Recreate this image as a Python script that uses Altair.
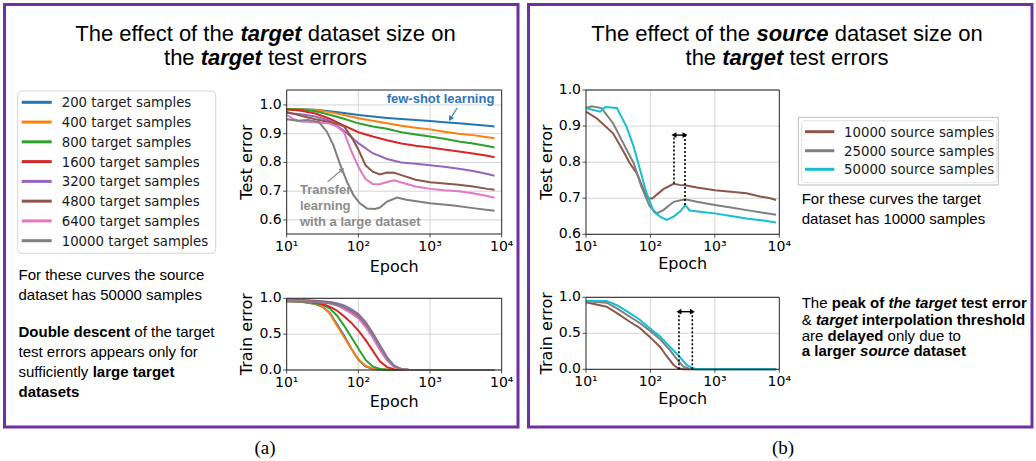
import altair as alt
import pandas as pd

W, H = 1036, 461

# ---------------- data (log10 of epoch, value) ----------------
A_NAMES = ["200 target samples", "400 target samples", "800 target samples", "1600 target samples",
           "3200 target samples", "4800 target samples", "6400 target samples", "10000 target samples"]
A_COLORS = ["#1f77b4", "#ff7f0e", "#2ca02c", "#d62728", "#9467bd", "#8c564b", "#e377c2", "#7f7f7f"]
B_NAMES = ["10000 source samples", "25000 source samples", "50000 source samples"]
B_COLORS = ["#8c564b", "#7f7f7f", "#17becf"]

X_TICKS = [10, 100, 1000, 10000]
X_TICK_LABELS = ["10\u00b9", "10\u00b2", "10\u00b3", "10\u2074"]
TEST_TICKS = [0.6, 0.7, 0.8, 0.9, 1.0]
TRAIN_TICKS = [0.0, 0.5, 1.0]

# (a) test error
A_TEST_EXP = [1.0, 1.2, 1.4, 1.6, 1.8, 2.0, 2.2, 2.4, 2.6, 2.8, 3.0, 3.2, 3.4, 3.6, 3.8, 3.9]
A_TEST_200 = [0.985, 0.985, 0.983, 0.978, 0.972, 0.965, 0.960, 0.955, 0.951, 0.948, 0.944, 0.940, 0.936, 0.932, 0.928, 0.925]
A_TEST_400 = [0.985, 0.985, 0.982, 0.975, 0.965, 0.954, 0.945, 0.936, 0.928, 0.921, 0.915, 0.907, 0.900, 0.895, 0.888, 0.884]
A_TEST_800 = [0.985, 0.984, 0.978, 0.966, 0.952, 0.936, 0.925, 0.917, 0.905, 0.897, 0.890, 0.882, 0.873, 0.866, 0.857, 0.852]
A_TEST_1600 = [0.985, 0.980, 0.970, 0.952, 0.928, 0.905, 0.890, 0.877, 0.866, 0.858, 0.852, 0.845, 0.838, 0.831, 0.823, 0.818]
A_TEST_3200 = [0.972, 0.968, 0.960, 0.945, 0.910, 0.867, 0.832, 0.812, 0.800, 0.795, 0.790, 0.785, 0.778, 0.770, 0.760, 0.754]
A_TEST_4800_EXP = [1.0, 1.2, 1.4, 1.6, 1.7, 1.8, 1.9, 2.0, 2.1, 2.2, 2.3, 2.4, 2.5, 2.6, 2.8, 3.0, 3.2, 3.4, 3.6, 3.8, 3.9]
A_TEST_4800 = [0.976, 0.962, 0.950, 0.940, 0.935, 0.925, 0.890, 0.845, 0.790, 0.768, 0.758, 0.765, 0.764, 0.756, 0.740, 0.731, 0.727, 0.722, 0.716, 0.708, 0.705]
A_TEST_6400_EXP = [1.0, 1.1, 1.2, 1.4, 1.6, 1.7, 1.8, 1.9, 2.0, 2.1, 2.2, 2.3, 2.4, 2.5, 2.6, 2.8, 3.0, 3.2, 3.4, 3.6, 3.8, 3.9]
A_TEST_6400 = [0.965, 0.950, 0.942, 0.940, 0.935, 0.925, 0.905, 0.840, 0.785, 0.742, 0.725, 0.724, 0.732, 0.738, 0.730, 0.716, 0.708, 0.703, 0.700, 0.693, 0.683, 0.677]
A_TEST_10000_EXP = [1.0, 1.15, 1.3, 1.45, 1.56, 1.65, 1.74, 1.84, 1.93, 2.02, 2.12, 2.23, 2.3, 2.4, 2.54, 2.67, 3.0, 3.33, 3.6, 3.9]
A_TEST_10000 = [0.950, 0.945, 0.948, 0.940, 0.907, 0.861, 0.797, 0.733, 0.687, 0.658, 0.640, 0.638, 0.643, 0.664, 0.678, 0.670, 0.658, 0.650, 0.641, 0.632]

# (a) train error
A_TRAIN_EXP = [1.0, 1.2, 1.4, 1.5, 1.6, 1.7, 1.8, 1.9, 2.0, 2.1, 2.2, 2.3, 2.4, 2.5, 2.6, 2.7, 3.0, 3.5, 3.9]
A_TRAIN_200 = [0.96, 0.95, 0.92, 0.88, 0.80, 0.64, 0.48, 0.30, 0.14, 0.05, 0.015, 0.005, 0.002, 0, 0, 0, 0, 0, 0]
A_TRAIN_400 = [0.96, 0.955, 0.925, 0.885, 0.79, 0.62, 0.46, 0.30, 0.15, 0.06, 0.02, 0.006, 0.002, 0, 0, 0, 0, 0, 0]
A_TRAIN_800 = [0.97, 0.96, 0.93, 0.91, 0.86, 0.76, 0.62, 0.46, 0.30, 0.14, 0.05, 0.015, 0.004, 0, 0, 0, 0, 0, 0]
A_TRAIN_1600 = [0.97, 0.965, 0.94, 0.92, 0.885, 0.83, 0.75, 0.66, 0.55, 0.42, 0.27, 0.12, 0.04, 0.01, 0.002, 0, 0, 0, 0]
A_TRAIN_3200 = [0.98, 0.975, 0.965, 0.96, 0.95, 0.93, 0.90, 0.85, 0.78, 0.67, 0.52, 0.35, 0.18, 0.06, 0.015, 0.002, 0, 0, 0]
A_TRAIN_4800 = [0.98, 0.975, 0.96, 0.95, 0.94, 0.91, 0.87, 0.81, 0.73, 0.62, 0.47, 0.31, 0.15, 0.05, 0.012, 0.002, 0, 0, 0]
A_TRAIN_6400 = [0.97, 0.965, 0.95, 0.94, 0.93, 0.90, 0.85, 0.79, 0.72, 0.60, 0.45, 0.28, 0.13, 0.045, 0.01, 0.001, 0, 0, 0]
A_TRAIN_10000 = [0.96, 0.958, 0.95, 0.94, 0.93, 0.91, 0.88, 0.83, 0.76, 0.65, 0.50, 0.33, 0.16, 0.05, 0.012, 0.002, 0, 0, 0]

# (b) test error
B_TEST_10000_EXP = [1.0, 1.17, 1.42, 1.58, 1.68, 1.79, 1.89, 1.97, 2.03, 2.1, 2.2, 2.36, 2.45, 2.56, 2.72, 3.0, 3.25, 3.49, 3.7, 3.86, 3.95]
B_TEST_10000 = [0.940, 0.921, 0.880, 0.830, 0.797, 0.769, 0.725, 0.700, 0.699, 0.710, 0.725, 0.740, 0.737, 0.735, 0.730, 0.722, 0.718, 0.714, 0.705, 0.700, 0.695]
B_TEST_25000_EXP = [1.0, 1.09, 1.24, 1.42, 1.58, 1.74, 1.86, 1.99, 2.1, 2.2, 2.36, 2.54, 2.72, 3.0, 3.25, 3.49, 3.75, 3.95]
B_TEST_25000 = [0.950, 0.955, 0.950, 0.908, 0.852, 0.797, 0.732, 0.677, 0.658, 0.667, 0.690, 0.697, 0.690, 0.681, 0.674, 0.667, 0.660, 0.654]
B_TEST_50000_EXP = [1.0, 1.1, 1.22, 1.3, 1.48, 1.63, 1.74, 1.84, 1.94, 2.05, 2.15, 2.25, 2.36, 2.46, 2.54, 2.61, 2.8, 3.0, 3.25, 3.49, 3.75, 3.95]
B_TEST_50000 = [0.950, 0.945, 0.940, 0.953, 0.950, 0.898, 0.843, 0.778, 0.714, 0.663, 0.649, 0.640, 0.649, 0.663, 0.681, 0.666, 0.662, 0.658, 0.651, 0.644, 0.638, 0.633]

# (b) train error
B_TRAIN_10000_EXP = [1.0, 1.32, 1.48, 1.68, 1.84, 1.99, 2.15, 2.25, 2.36, 2.43, 2.51, 2.6, 3.0, 3.5, 3.95]
B_TRAIN_10000 = [0.93, 0.87, 0.78, 0.66, 0.57, 0.45, 0.31, 0.185, 0.06, 0.014, 0, 0, 0, 0, 0]
B_TRAIN_25000_EXP = [1.0, 1.32, 1.48, 1.68, 1.84, 1.99, 2.15, 2.3, 2.41, 2.51, 2.61, 2.7, 3.0, 3.5, 3.95]
B_TRAIN_25000 = [0.945, 0.926, 0.847, 0.73, 0.64, 0.537, 0.417, 0.27, 0.14, 0.037, 0.005, 0, 0, 0, 0]
B_TRAIN_50000_EXP = [1.0, 1.32, 1.48, 1.68, 1.84, 1.99, 2.15, 2.3, 2.46, 2.56, 2.67, 2.75, 3.0, 3.5, 3.95]
B_TRAIN_50000 = [0.95, 0.95, 0.89, 0.78, 0.685, 0.57, 0.454, 0.315, 0.167, 0.06, 0.01, 0, 0, 0, 0]

# epochs / values of the double arrows in (b)
B_TEST_ARROW_X = [232, 344]
B_TEST_ARROW_YLOW = [0.741, 0.681]
B_TEST_ARROW_Y = 0.875
B_TRAIN_ARROW_X = [277, 447]
B_TRAIN_ARROW_Y = 0.80


def rows(name, exps, vals):
    return [{"series": name, "epoch": 10 ** e, "val": v} for e, v in zip(exps, vals)]


a_test = pd.DataFrame(
    rows(A_NAMES[0], A_TEST_EXP, A_TEST_200) + rows(A_NAMES[1], A_TEST_EXP, A_TEST_400)
    + rows(A_NAMES[2], A_TEST_EXP, A_TEST_800) + rows(A_NAMES[3], A_TEST_EXP, A_TEST_1600)
    + rows(A_NAMES[4], A_TEST_EXP, A_TEST_3200) + rows(A_NAMES[5], A_TEST_4800_EXP, A_TEST_4800)
    + rows(A_NAMES[6], A_TEST_6400_EXP, A_TEST_6400) + rows(A_NAMES[7], A_TEST_10000_EXP, A_TEST_10000))
a_train = pd.DataFrame(sum([rows(n, A_TRAIN_EXP, v) for n, v in zip(A_NAMES, [
    A_TRAIN_200, A_TRAIN_400, A_TRAIN_800, A_TRAIN_1600, A_TRAIN_3200, A_TRAIN_4800, A_TRAIN_6400, A_TRAIN_10000])], []))
b_test = pd.DataFrame(rows(B_NAMES[0], B_TEST_10000_EXP, B_TEST_10000) + rows(B_NAMES[1], B_TEST_25000_EXP, B_TEST_25000)
                      + rows(B_NAMES[2], B_TEST_50000_EXP, B_TEST_50000))
b_train = pd.DataFrame(rows(B_NAMES[0], B_TRAIN_10000_EXP, B_TRAIN_10000) + rows(B_NAMES[1], B_TRAIN_25000_EXP, B_TRAIN_25000)
                       + rows(B_NAMES[2], B_TRAIN_50000_EXP, B_TRAIN_50000))

TICK_FONT = "DejaVu Sans"
NOAX = dict(axis=None)


def panel(df, names, colors, xr, ydom, yr, yticks, ytitle, title_x, epoch_y, extras=()):
    xs = alt.Scale(type="log", domain=[10, 10000], range=xr)
    ys = alt.Scale(domain=ydom, range=yr, nice=False, zero=False)
    ybot, xleft = yr[0], xr[0]
    gx = pd.DataFrame({"g": X_TICKS[1:3], "y0": [ydom[0]] * 2, "y1": [ydom[1]] * 2})
    gy = pd.DataFrame({"g": yticks, "x0": [10] * len(yticks), "x1": [10000] * len(yticks)})
    fr = pd.DataFrame({"x0": [10], "x1": [10000], "y0": [ydom[0]], "y1": [ydom[1]]})
    xt = pd.DataFrame({"t": X_TICKS, "lab": X_TICK_LABELS})
    yt = pd.DataFrame({"t": yticks, "lab": [f"{v:.1f}" for v in yticks]})

    grid_x = alt.Chart(gx).mark_rule(color="#d4d4d4", strokeWidth=1).encode(
        x=alt.X("g:Q", scale=xs, **NOAX), y=alt.Y("y0:Q", scale=ys, **NOAX), y2="y1:Q")
    grid_y = alt.Chart(gy).mark_rule(color="#d4d4d4", strokeWidth=1).encode(
        y=alt.Y("g:Q", scale=ys, **NOAX), x=alt.X("x0:Q", scale=xs, **NOAX), x2="x1:Q")
    lines = alt.Chart(df).mark_line(strokeWidth=2).encode(
        x=alt.X("epoch:Q", scale=xs, **NOAX),
        y=alt.Y("val:Q", scale=ys, **NOAX),
        color=alt.Color("series:N", scale=alt.Scale(domain=names, range=colors), legend=None))
    frame = alt.Chart(fr).mark_rect(filled=False, stroke="#222222", strokeWidth=1).encode(
        x=alt.X("x0:Q", scale=xs, **NOAX), x2="x1:Q", y=alt.Y("y0:Q", scale=ys, **NOAX), y2="y1:Q")
    xtick = alt.Chart(xt).mark_rule(color="#222222", strokeWidth=0.8).encode(
        x=alt.X("t:Q", scale=xs, **NOAX), y=alt.value(ybot), y2=alt.value(ybot + 3.5))
    xlab = alt.Chart(xt).mark_text(font=TICK_FONT, fontSize=14, align="center", baseline="alphabetic",
                                   color="black").encode(
        x=alt.X("t:Q", scale=xs, **NOAX), y=alt.value(ybot + 16.5), text="lab:N")
    ytick = alt.Chart(yt).mark_rule(color="#222222", strokeWidth=0.8).encode(
        y=alt.Y("t:Q", scale=ys, **NOAX), x=alt.value(xleft - 3.5), x2=alt.value(xleft))
    ylab = alt.Chart(yt).mark_text(font=TICK_FONT, fontSize=14, align="right", baseline="middle",
                                   color="black").encode(
        y=alt.Y("t:Q", scale=ys, **NOAX), x=alt.value(xleft - 5), text="lab:N")
    xtitle = alt.Chart(pd.DataFrame({"t": ["Epoch"]})).mark_text(
        font=TICK_FONT, fontSize=16, align="center", baseline="alphabetic", color="black").encode(
        x=alt.value((xr[0] + xr[1]) / 2), y=alt.value(epoch_y), text="t:N")
    ytitle_m = alt.Chart(pd.DataFrame({"t": [ytitle]})).mark_text(
        font=TICK_FONT, fontSize=16, align="center", baseline="middle", angle=270, color="black").encode(
        x=alt.value(title_x), y=alt.value((yr[0] + yr[1]) / 2), text="t:N")
    layers = [grid_x, grid_y, lines, frame, xtick, xlab, ytick, ylab, xtitle, ytitle_m]
    for e in extras:
        layers.append(e(xs, ys))
    return alt.layer(*layers)


def double_arrow(xvals, ylows, ytop):
    def build(xs, ys):
        dots = alt.Chart(pd.DataFrame({"x": xvals, "y0": ylows, "y1": [ytop] * len(xvals)})).mark_rule(
            color="black", strokeWidth=1.6, strokeDash=[2, 2]).encode(
            x=alt.X("x:Q", scale=xs, **NOAX), y=alt.Y("y0:Q", scale=ys, **NOAX), y2="y1:Q")
        hor = alt.Chart(pd.DataFrame({"x0": [xvals[0]], "x1": [xvals[1]], "y": [ytop]})).mark_rule(
            color="black", strokeWidth=1.4).encode(
            x=alt.X("x0:Q", scale=xs, **NOAX), x2="x1:Q", y=alt.Y("y:Q", scale=ys, **NOAX))
        hl = alt.Chart(pd.DataFrame({"x": [xvals[0]], "y": [ytop]})).mark_point(
            shape="triangle-left", filled=True, color="black", size=32, opacity=1).encode(
            x=alt.X("x:Q", scale=xs, **NOAX), y=alt.Y("y:Q", scale=ys, **NOAX))
        hr = alt.Chart(pd.DataFrame({"x": [xvals[1]], "y": [ytop]})).mark_point(
            shape="triangle-right", filled=True, color="black", size=32, opacity=1).encode(
            x=alt.X("x:Q", scale=xs, **NOAX), y=alt.Y("y:Q", scale=ys, **NOAX))
        return alt.layer(dots, hor, hl, hr)
    return build


A_top = panel(a_test, A_NAMES, A_COLORS, [286.7, 501.7], [0.551, 1.052], [234, 90],
              TEST_TICKS, "Test error", 246.7, 271.5)
A_bot = panel(a_train, A_NAMES, A_COLORS, [286.7, 501.7], [0, 1], [370, 298.3],
              TRAIN_TICKS, "Train error", 246.5, 406.5)
B_top = panel(b_test, B_NAMES, B_COLORS, [586, 779.3], [0.6, 1.0], [234.3, 90],
              TEST_TICKS, "Test error", 546.7, 268.5,
              extras=[double_arrow(B_TEST_ARROW_X, B_TEST_ARROW_YLOW, B_TEST_ARROW_Y)])
B_bot = panel(b_train, B_NAMES, B_COLORS, [586, 779.3], [0, 1], [369.3, 297.3],
              TRAIN_TICKS, "Train error", 546.5, 404,
              extras=[double_arrow(B_TRAIN_ARROW_X, [0, 0], B_TRAIN_ARROW_Y)])

# ---------------- text layout (Liberation Sans = Arial metrics) ----------------
REG_W = {' ': 278, '&': 667, 'T': 611, 'D': 722, 'F': 611, 'a': 556, 'b': 556, 'c': 500, 'd': 556, 'e': 556,
         'f': 278, 'g': 556, 'h': 556, 'i': 222, 'j': 222, 'k': 500, 'l': 222, 'm': 833, 'n': 556, 'o': 556,
         'p': 556, 'q': 556, 'r': 333, 's': 500, 't': 278, 'u': 556, 'v': 500, 'w': 722, 'x': 500, 'y': 500,
         'z': 500, '-': 333, '.': 278}
BOLD_W = {' ': 278, '&': 722, 'T': 611, 'D': 722, 'F': 611, 'a': 556, 'b': 611, 'c': 556, 'd': 611, 'e': 556,
          'f': 333, 'g': 611, 'h': 611, 'i': 278, 'j': 278, 'k': 556, 'l': 278, 'm': 889, 'n': 611, 'o': 611,
          'p': 611, 'q': 611, 'r': 389, 's': 556, 't': 333, 'u': 611, 'v': 556, 'w': 778, 'x': 556, 'y': 556,
          'z': 500, '-': 333, '.': 278}
STYLES = {"n": ("normal", "normal"), "b": ("bold", "normal"), "bi": ("bold", "italic")}


def width(text, kind, size):
    table = REG_W if kind == "n" else BOLD_W
    return sum(table.get(c, 556) for c in text) * size / 1000.0


TEXT_ITEMS = []


def lay(segments, y, size, left=None, center=None, color="black"):
    total = sum(width(t, k, size) for t, k in segments)
    x = left if left is not None else center - total / 2
    for t, k in segments:
        lead = len(t) - len(t.lstrip(" "))
        TEXT_ITEMS.append({"x": x + width(" " * lead, k, size), "y": y, "t": t.strip(), "kind": k,
                           "size": size, "color": color})
        x += width(t, k, size)


A_TITLE = [[("The effect of the ", "n"), ("target", "bi"), (" dataset size on", "n")],
           [("the ", "n"), ("target", "bi"), (" test errors", "n")]]
B_TITLE = [[("The effect of the ", "n"), ("source", "bi"), (" dataset size on", "n")],
           [("the ", "n"), ("target", "bi"), (" test errors", "n")]]
A_NOTE = [[("For these curves the source", "n")], [("dataset has 50000 samples", "n")],
          [("Double descent", "b"), (" of the target", "n")], [("test errors appears only for", "n")],
          [("sufficiently ", "n"), ("large target", "b")], [("datasets", "b")]]
B_NOTE = [[("For these curves the target", "n")], [("dataset has 10000 samples", "n")]]
B_NOTE2 = [[("The ", "n"), ("peak of ", "b"), ("the target", "bi"), (" test error", "b")],
           [("& ", "n"), ("target", "bi"), (" interpolation threshold", "b")],
           [("are ", "n"), ("delayed", "b"), (" only due to", "n")],
           [("a larger ", "b"), ("source", "bi"), (" dataset", "b")]]

for segs_, y in zip(A_TITLE, [40.7, 65]):
    lay(segs_, y, 22, center=265.5)
for segs_, y in zip(B_TITLE, [40.7, 65]):
    lay(segs_, y, 22, center=787)
for segs_, y in zip(A_NOTE, [280, 300, 337, 357, 377, 397]):
    lay(segs_, y, 15, left=18.5)
for segs_, y in zip(B_NOTE, [204, 223.5]):
    lay(segs_, y, 15, left=801.7)
for segs_, y in zip(B_NOTE2, [308, 325, 340.5, 356]):
    lay(segs_, y, 15, left=801.7)
lay([("few-shot learning", "b")], 103, 13, left=386.7, color="#2e75b6")
for segs_, y in zip([[("Transfer", "b")], [("learning", "b")], [("with a large dataset", "b")]], [194, 210, 226]):
    lay(segs_, y, 13, left=300, color="#8c8c8c")

text_df = pd.DataFrame(TEXT_ITEMS)
PX = dict(scale=None, axis=None)
text_layers = []
for (kind, size, color), grp in text_df.groupby(["kind", "size", "color"], sort=False):
    wgt, sty = STYLES[kind]
    text_layers.append(alt.Chart(grp).mark_text(
        align="left", baseline="alphabetic", font="Liberation Sans", fontSize=size, fontWeight=wgt,
        fontStyle=sty, color=color).encode(x=alt.X("x:Q", **PX), y=alt.Y("y:Q", **PX), text="t:N"))


def boxes(items, **style):
    df = pd.DataFrame(items, columns=["x0", "y0", "x1", "y1"])
    return alt.Chart(df).mark_rect(**style).encode(
        x=alt.X("x0:Q", **PX), x2="x1:Q", y=alt.Y("y0:Q", **PX), y2="y1:Q")


def segs(items, color, w):
    df = pd.DataFrame(items, columns=["x0", "y0", "x1", "y1"])
    return alt.Chart(df).mark_rule(color=color, strokeWidth=w).encode(
        x=alt.X("x0:Q", **PX), x2="x1:Q", y=alt.Y("y0:Q", **PX), y2="y1:Q")


def head(x, y, angle, color):
    return alt.Chart(pd.DataFrame({"x": [x], "y": [y]})).mark_point(
        shape="triangle-up", filled=True, color=color, size=34, angle=angle, opacity=1).encode(
        x=alt.X("x:Q", **PX), y=alt.Y("y:Q", **PX))


borders = boxes([[4.5, 4.5, 518, 427], [528.5, 4.5, 1032, 427]], filled=False, stroke="#7030a0", strokeWidth=3)
legA_box = boxes([[17.7, 91, 215.7, 253.3]], fill="white", stroke="#d6d6d6", strokeWidth=1, cornerRadius=4)
legB_box = boxes([[798.3, 117.3, 998.3, 185]], fill="white", stroke="#bdbdbd", strokeWidth=1)
legB_inner = boxes([[801.7, 120.7, 996.7, 182.7]], filled=False, stroke="#e2e2e2", strokeWidth=1, cornerRadius=3)

legA_y = [102.3 + i * 19.77 for i in range(len(A_NAMES))]
legB_y = [131.7, 150.7, 169.3]
leg_df = pd.DataFrame({
    "x0": [21.7] * len(A_NAMES) + [805] * len(B_NAMES),
    "x1": [51.7] * len(A_NAMES) + [834.3] * len(B_NAMES),
    "y": legA_y + legB_y,
    "name": A_NAMES + B_NAMES,
    "tx": [61.7] * len(A_NAMES) + [844] * len(B_NAMES),
})
leg_lines = alt.Chart(leg_df).mark_rule(strokeWidth=3).encode(
    x=alt.X("x0:Q", **PX), x2="x1:Q", y=alt.Y("y:Q", **PX),
    color=alt.Color("name:N", scale=alt.Scale(domain=A_NAMES + B_NAMES, range=A_COLORS + B_COLORS), legend=None))
leg_text = alt.Chart(leg_df).mark_text(align="left", baseline="middle", font="DejaVu Sans", fontSize=13.3,
                                       color="#1a1a1a", dy=1).encode(
    x=alt.X("tx:Q", **PX), y=alt.Y("y:Q", **PX), text="name:N")

arr_blue = segs([[457.3, 107.7, 451.5, 117]], "#3a7ebf", 1.2)
arr_blue_h = head(450.3, 118.8, 212, "#3a7ebf")
arr_gray = segs([[327.7, 181.7, 340.5, 171]], "#8c8c8c", 1.2)
arr_gray_h = head(342.2, 169.6, 50, "#8c8c8c")

captions = alt.Chart(pd.DataFrame({"x": [265, 783], "y": [454, 454], "t": ["(a)", "(b)"]})).mark_text(
    align="center", baseline="alphabetic", font="Liberation Serif", fontSize=19, color="black").encode(
    x=alt.X("x:Q", **PX), y=alt.Y("y:Q", **PX), text="t:N")

chart = alt.layer(
    borders, legA_box, legB_box, legB_inner,
    A_top, A_bot, B_top, B_bot,
    leg_lines, leg_text, *text_layers,
    arr_blue, arr_blue_h, arr_gray, arr_gray_h, captions,
).resolve_scale(x="independent", y="independent", color="independent").properties(
    width=W, height=H, padding=0, autosize=alt.AutoSizeParams(type="none"), background="white"
).configure_view(stroke=None)

chart.save("out.html", embed_options={"renderer": "svg", "actions": False})
